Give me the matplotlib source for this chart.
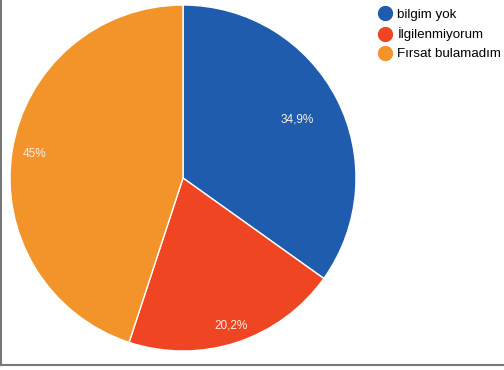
import matplotlib.pyplot as plt
import numpy as np
from matplotlib.lines import Line2D

plt.rcParams['font.family'] = ['Liberation Sans', 'DejaVu Sans']

# data
labels = ['bilgim yok', 'İlgilenmiyorum', 'Fırsat bulamadım']
values = [34.9, 20.2, 45]
colors = ['#1f5cad', '#ef4523', '#f3942a']

fig = plt.figure(figsize=(5.04, 3.70), dpi=100)
ax = fig.add_axes([10 / 504, 19 / 370, 346 / 504, 346 / 370])

wedges, texts = ax.pie(
    values, colors=colors, startangle=90, counterclock=False,
    wedgeprops=dict(edgecolor='white', linewidth=1))
ax.set_xlim(-1, 1)
ax.set_ylim(-1, 1)

# percentage labels, placed along each wedge's middle angle
label_dist = [0.74, 0.9, 0.87]
for w, v, d in zip(wedges, values, label_dist):
    ang = np.deg2rad((w.theta1 + w.theta2) / 2)
    ax.text(d * np.cos(ang), d * np.sin(ang), f'{v:g}'.replace('.', ',') + '%',
            ha='center', va='center', color='#fbeee0', fontsize=8.5)

handles = [Line2D([], [], marker='o', linestyle='', markersize=10,
                  markerfacecolor=c, markeredgecolor=c) for c in colors]
fig.legend(handles, labels, loc='upper left', bbox_to_anchor=(370 / 504, 1 - 3 / 370),
           frameon=False, fontsize=9.6, handletextpad=0.15, labelspacing=0.5,
           handlelength=1.5, borderaxespad=0)

# frame lines at left and bottom
fig.add_artist(Line2D([1 / 504, 1 / 504], [5 / 370, 1], color='#777777', linewidth=1.5))
fig.add_artist(Line2D([0, 1], [5 / 370, 5 / 370], color='#777777', linewidth=1.5))

fig.savefig('out.png', dpi=100)
